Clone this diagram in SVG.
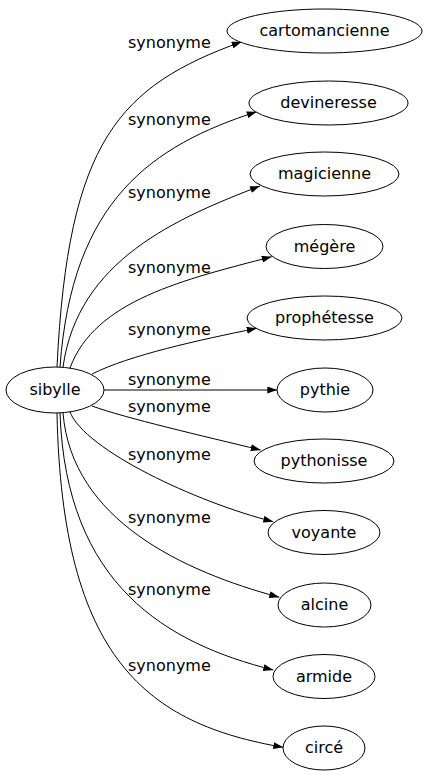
<svg xmlns="http://www.w3.org/2000/svg" width="426" height="779" viewBox="0 0 426 779">
<style>
.n ellipse{fill:#fff;stroke:#000;stroke-width:1}
text{font-family:"DejaVu Sans",sans-serif;font-size:16px;fill:#000}
.n text{text-anchor:middle}
.e path{fill:none;stroke:#000;stroke-width:1;marker-end:url(#a)}
</style>
<defs>
<marker id="a" markerUnits="userSpaceOnUse" markerWidth="10" markerHeight="7" refX="10" refY="3.5" orient="auto">
<path d="M0,0 L10,3.5 L0,7 z" fill="#000"/>
</marker>
</defs>
<rect width="426" height="779" fill="#fff"/>
<g id="edges" class="e">
<path d="M57,367 C68,140 119.5,86 241.7,41.7"/>
<path d="M60,367 C72,200 152.1,145.6 256.7,111.7"/>
<path d="M63,367 C78,260 176.3,218.4 260,186"/>
<path d="M70,368 C95,300 184.7,279.5 271.7,256.7"/>
<path d="M92,374 C130,355 197.9,340.3 256.7,328.3"/>
<path d="M104,390 L277.3,390"/>
<path d="M92,406 C125,418 202.4,435.9 260.7,450"/>
<path d="M70,412 C85,450 195.7,502.1 273.3,521.7"/>
<path d="M63,413 C72,520 182.8,571.3 279.3,597.3"/>
<path d="M60,413 C66,585 166.6,643.4 273.3,670"/>
<path d="M57,413 C62,660 148,724 283.3,747.3"/>
<text x="128" y="48">synonyme</text>
<text x="128" y="125">synonyme</text>
<text x="128" y="198">synonyme</text>
<text x="128" y="273">synonyme</text>
<text x="128" y="335">synonyme</text>
<text x="128" y="385">synonyme</text>
<text x="128" y="412">synonyme</text>
<text x="128" y="460">synonyme</text>
<text x="128" y="523">synonyme</text>
<text x="128" y="595">synonyme</text>
<text x="128" y="671">synonyme</text>
</g>
<g id="sibylle" class="n"><ellipse cx="55" cy="390" rx="49" ry="23"/><text x="55" y="395">sibylle</text></g>
<g id="cartomancienne" class="n"><ellipse cx="324.5" cy="31" rx="97.5" ry="22"/><text x="324.5" y="36">cartomancienne</text></g>
<g id="devineresse" class="n"><ellipse cx="328.5" cy="103" rx="79.5" ry="22"/><text x="328.5" y="108">devineresse</text></g>
<g id="magicienne" class="n"><ellipse cx="324.5" cy="174" rx="74.5" ry="22"/><text x="324.5" y="179">magicienne</text></g>
<g id="megere" class="n"><ellipse cx="324.5" cy="246.5" rx="58.5" ry="22"/><text x="324.5" y="251.5">mégère</text></g>
<g id="prophetesse" class="n"><ellipse cx="324.5" cy="318" rx="77.5" ry="22"/><text x="324.5" y="323">prophétesse</text></g>
<g id="pythie" class="n"><ellipse cx="325" cy="390" rx="48" ry="22"/><text x="325" y="395">pythie</text></g>
<g id="pythonisse" class="n"><ellipse cx="324" cy="461" rx="70" ry="22"/><text x="324" y="466">pythonisse</text></g>
<g id="voyante" class="n"><ellipse cx="324" cy="532.5" rx="56" ry="22"/><text x="324" y="537.5">voyante</text></g>
<g id="alcine" class="n"><ellipse cx="324.5" cy="605" rx="46.5" ry="22"/><text x="324.5" y="610">alcine</text></g>
<g id="armide" class="n"><ellipse cx="324" cy="676.5" rx="51" ry="22"/><text x="324" y="681.5">armide</text></g>
<g id="circe" class="n"><ellipse cx="324" cy="748" rx="41" ry="22"/><text x="324" y="753">circé</text></g>
</svg>
